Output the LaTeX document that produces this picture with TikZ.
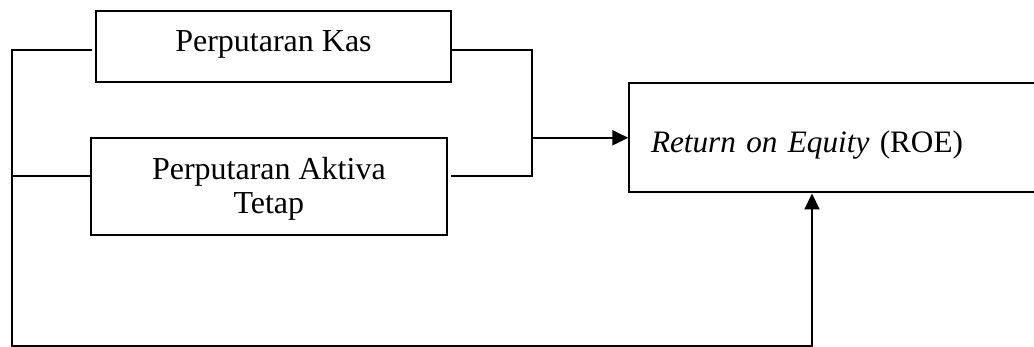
\documentclass[tikz,border=0pt]{standalone}
\usepackage{fontspec}
\setmainfont{Liberation Serif}
\usetikzlibrary{arrows.meta}
\begin{document}
\begin{tikzpicture}[x=1pt,y=-1pt,
  line width=2pt,
  boxnode/.style={draw, rectangle, anchor=north west, inner xsep=0pt, inner ysep=0pt,
    font=\fontsize{32}{34.4}\selectfont},
  arr/.style={-{Triangle[length=16pt,width=15pt]}}]
\useasboundingbox (0,0) rectangle (1034,347);
\clip (0,0) rectangle (1034,347);
% boxes
\node[boxnode, minimum width=355.6pt, text height=40.6pt, text depth=30.6pt] (kas) at (94.7,10) {Perputaran Kas};
\node[boxnode, minimum width=355.7pt, text height=41pt, text depth=55.7pt] (aktiva) at (90,137.3)
  {\begin{tabular}[t]{@{}c@{}}Perputaran Aktiva\\Tetap\end{tabular}};
\node[boxnode, font=\fontsize{31.2}{34.4}\selectfont, inner xsep=21.7pt, text width=400pt, align=left, text height=70.3pt, text depth=39.5pt] (roe) at (628.3,81.7)
  {\textit{Return on Equity} (ROE)};
% junction coordinates
\coordinate (tl) at (12,50);
\coordinate (ml) at (12,175.7);
\coordinate (br) at (812,345.7);
\coordinate (tr) at (531.7,50);
\coordinate (mr) at (531.7,176);
\coordinate (jn) at (531.7,137.8);
% connectors
\draw[arr, shorten <=2.7pt] (kas.west |- tl) -- (tl) |- (br) -- (br |- roe.south);
\draw (aktiva.west |- ml) -- (ml);
\draw[shorten >=3.6pt] (kas.east |- tr) -- (tr) -- (mr) -- (aktiva.east |- mr);
\draw[arr] (jn) -- (roe.west |- jn);
\end{tikzpicture}
\end{document}
